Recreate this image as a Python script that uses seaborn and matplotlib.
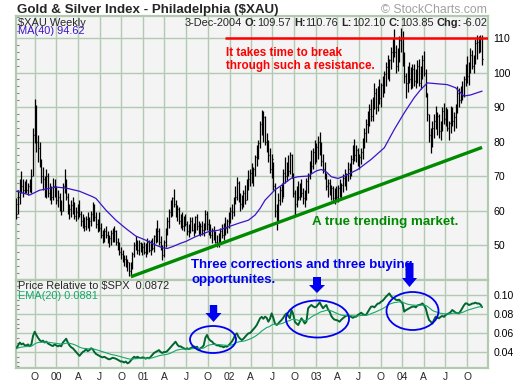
import matplotlib
matplotlib.use("Agg")
import matplotlib.pyplot as plt
from matplotlib.patches import Ellipse, Polygon
from matplotlib.ticker import MultipleLocator
import numpy as np
import pandas as pd
import seaborn as sns

# weekly bars of $XAU, first bar week ending 1999-07-16
first_week = "1999-07-16"

lows = [
    57.5, 59, 62, 65, 64, 65, 65, 64.5, 65.5, 65,
    70, 79.5, 77, 74, 72.5, 68, 66, 64, 63.5, 64,
    63, 62, 63, 64, 62, 61, 60, 58.7, 60, 65,
    63, 59, 57.5, 58, 59, 57.5, 57, 57.5, 58, 55.5,
    55, 54, 54.5, 55, 54, 55.5, 57, 57, 55, 53.7,
    54, 52, 50.6, 51, 52, 50.5, 49.5, 50, 51, 51,
    50, 48.5, 47, 46, 45, 44, 43.5, 42.5, 41, 41.3,
    43, 46.5, 48.5, 47.5, 47, 48, 47, 47.5, 46.5, 47.5,
    48, 47, 48.5, 48, 50.5, 51, 50, 48.5, 45.6, 46.5,
    49.5, 53, 55, 58, 58.5, 61, 58, 57, 56, 55,
    54.3, 54, 55.5, 53, 52.3, 53.5, 54, 52.5, 53.5, 54.5,
    53, 52.5, 53, 52.5, 54.5, 54.5, 53, 52, 50.5, 51.5,
    50.5, 49.4, 49.4, 50.5, 52, 51.5, 53, 53.5, 55, 56.5,
    57.5, 58.5, 62, 63, 62.5, 60, 60.5, 61, 62, 63,
    66, 67, 68, 67, 70, 73, 75, 78, 82, 80,
    79, 77, 74, 71, 69.5, 66, 58, 54.3, 57, 61.5,
    62.5, 64, 68, 68.5, 70, 70.5, 69.5, 64, 58.7, 61,
    63, 63, 64, 62, 61, 63, 65, 69, 71, 72,
    73.5, 74, 75, 76, 73, 71, 69, 66, 64, 64.5,
    63, 62.5, 62, 63, 62.5, 64, 63.5, 65.5, 67, 66,
    68.5, 69, 70, 73.5, 74.5, 74, 73, 72, 73.5, 75,
    78, 80, 82.5, 84.5, 86, 86, 89.4, 88, 89, 91,
    90, 93, 94, 96, 98, 97.5, 101, 103, 104.5, 100,
    100.5, 103, 106, 102, 97, 92.7, 94.5, 97, 95.2, 95.5,
    96, 95.5, 97, 96, 95.2, 98, 99, 93, 86, 80,
    76.7, 78.5, 81, 83.5, 82, 81, 80.5, 83, 85, 84.5,
    83, 80.4, 82.5, 84.5, 83, 84, 88.3, 90, 91.2, 92,
    93, 96, 97, 96.5, 100, 101, 100, 102.5, 104, 105.6, 106, 102.1,
]

highs = [
    63.5, 66, 69, 71.5, 69, 68.5, 69, 68, 69, 72,
    84, 92.3, 90.5, 82, 80, 75, 72.5, 70, 72, 71,
    68, 67, 69.5, 69, 67, 66, 65, 63, 68, 72,
    69, 65, 62, 63, 64, 62.5, 61, 62, 63, 60,
    59, 58, 58.5, 59.5, 58, 60, 62.5, 62, 59.5, 57.5,
    59.5, 56.5, 54.5, 55, 55.5, 54, 53, 54.5, 55, 55.5,
    54.5, 52, 51, 49.5, 48.5, 47, 47, 46, 45, 45,
    48, 51, 52.5, 51.5, 51.5, 51, 50.5, 51, 50.5, 52,
    51.5, 51.5, 52, 53, 55, 57.2, 55, 52.5, 50, 51.5,
    55, 58, 60.5, 63, 64, 66.2, 63, 61.5, 61, 59,
    59.5, 58.5, 59, 57, 56, 58, 58, 56.5, 58.5, 59,
    57, 56.5, 57, 56.5, 60.1, 60, 57.5, 56, 55, 55.5,
    54, 53, 53.5, 55, 56, 56.5, 58, 57.5, 59.5, 61,
    62, 64, 67, 69.7, 68.5, 65, 64.5, 66, 67.5, 69,
    71.7, 72, 73.8, 72.5, 76, 79, 80.5, 86, 89.1, 89,
    87.5, 82.5, 80.4, 78, 76.5, 74, 68, 62, 65, 67,
    68, 72, 75.5, 74, 76, 77, 76.5, 71, 66, 67,
    68.5, 68, 69, 66.5, 66, 69.5, 71, 74.5, 77.5, 78,
    80.4, 79.5, 81.5, 82.8, 80, 76.5, 74, 71, 69, 69,
    67.5, 67, 66.5, 67, 67.5, 69, 68, 70.5, 72, 71,
    74, 73.8, 76, 79, 80.7, 79, 78, 76.5, 78, 81,
    84, 86.5, 89, 91, 92.3, 93, 97, 95.5, 96, 98,
    97, 99, 100.5, 103, 105, 104, 107.5, 110, 112.5, 108,
    107, 110.5, 112.8, 112, 106, 100, 102, 103, 101.5, 102.5,
    102.5, 101, 103.5, 104, 102, 105, 106.2, 101, 94, 88,
    84, 86, 88, 90.3, 88.5, 88, 86, 90, 91.2, 90,
    89.5, 86, 90.3, 90, 88.5, 91, 96, 95.5, 96, 97.5,
    99, 102.5, 104.8, 103, 107, 106.5, 105, 109.7, 111, 110.5, 111, 110.76,
]

closes = [
    59, 64, 67, 67, 66, 67.5, 66, 67, 66.5, 70,
    82, 86, 80, 78, 74, 70, 69, 66, 70, 65,
    65, 64, 67, 65.5, 63, 64, 61, 60, 67, 68,
    64, 60, 60.5, 61.5, 62, 58.5, 59.5, 61, 59, 57,
    56, 55.5, 57.5, 56, 57, 59, 61, 58, 56, 55,
    55, 53, 52.5, 54, 53, 51.5, 52, 53.5, 52, 54,
    51, 49.5, 48, 47.5, 45.5, 46, 44, 45, 42.5, 44,
    47.5, 50, 50.5, 48.5, 50.5, 48.5, 49.5, 48, 49.5, 51,
    48.5, 50.5, 49, 52.5, 53, 54, 51, 49.5, 47, 51,
    54.5, 57, 59.5, 60, 63.5, 62, 59, 60.5, 57, 58,
    55.5, 57.5, 56, 54, 55.5, 57, 54.5, 55.5, 58, 55.5,
    54, 55.5, 54.5, 56, 59, 56, 54.5, 53, 54.5, 52.5,
    51, 50.5, 52.5, 54, 53, 56, 55, 57, 58.5, 60,
    59.5, 63.5, 64, 68, 63.5, 62, 63, 65, 63, 68.5,
    69, 71, 70, 72, 75.5, 76, 79.5, 85, 84, 87,
    80, 80, 76, 72, 75, 67, 60, 60, 63, 66,
    63.5, 71, 70, 73, 71.5, 76, 70.5, 65, 62, 66,
    64, 67, 65, 63.5, 65.5, 68.5, 70, 73.5, 73, 77,
    76, 78.5, 80, 78, 74.5, 72, 70, 67, 68, 65,
    66.5, 63.5, 65.5, 64, 66.5, 65, 67.5, 69.5, 68, 70.5,
    72, 70.5, 75, 78, 76, 77.5, 74, 75.5, 77, 80,
    82.5, 85, 87, 89.5, 87.5, 92, 94, 90, 95, 92.5,
    96.5, 97, 99.5, 101.5, 100, 103.5, 106, 109, 106, 102,
    105, 109.5, 110, 104, 99, 97, 100.5, 98, 96, 101,
    97.5, 99.5, 102, 97, 100.5, 103.5, 100, 94, 88, 82,
    80.5, 84, 86, 85, 87.5, 83, 85, 89, 86.5, 89.5,
    84, 85.5, 89, 86, 87, 90.5, 94, 92, 95, 93.5,
    98, 101, 99, 102.5, 105, 102, 104, 108.5, 109, 108, 109.87, 103.85,
]

# price relative to $SPX, same weeks
price_rel = [
    0.044, 0.047, 0.050, 0.048, 0.049, 0.047, 0.047, 0.048, 0.046, 0.048,
    0.057, 0.0614, 0.058, 0.055, 0.0526, 0.051, 0.052, 0.050, 0.051, 0.049,
    0.048, 0.047, 0.0463, 0.048, 0.047, 0.046, 0.047, 0.046, 0.050, 0.052,
    0.054, 0.050, 0.047, 0.045, 0.044, 0.042, 0.040, 0.038, 0.036, 0.038,
    0.040, 0.041, 0.043, 0.041, 0.042, 0.044, 0.043, 0.040, 0.038, 0.037,
    0.036, 0.035, 0.0344, 0.035, 0.034, 0.033, 0.0323, 0.033, 0.034, 0.0335,
    0.033, 0.032, 0.031, 0.030, 0.030, 0.029, 0.030, 0.0281, 0.029, 0.031,
    0.0333, 0.035, 0.034, 0.035, 0.034, 0.0335, 0.0344, 0.034, 0.033, 0.034,
    0.0333, 0.035, 0.037, 0.039, 0.040, 0.041, 0.042, 0.040, 0.039, 0.040,
    0.040, 0.041, 0.043, 0.045, 0.047, 0.049, 0.0509, 0.048, 0.046, 0.046,
    0.0449, 0.044, 0.043, 0.044, 0.043, 0.044, 0.045, 0.046, 0.045, 0.0456,
    0.042, 0.044, 0.045, 0.047, 0.055, 0.058, 0.054, 0.052, 0.051, 0.049,
    0.048, 0.047, 0.047, 0.046, 0.046, 0.045, 0.046, 0.0456, 0.047, 0.049,
    0.051, 0.054, 0.058, 0.0597, 0.056, 0.054, 0.0526, 0.054, 0.056, 0.058,
    0.0597, 0.060, 0.062, 0.064, 0.066, 0.0684, 0.072, 0.0755, 0.077, 0.075,
    0.0772, 0.076, 0.0719, 0.075, 0.0807, 0.076, 0.070, 0.0684, 0.070, 0.072,
    0.0737, 0.076, 0.079, 0.0807, 0.078, 0.0755, 0.0842, 0.080, 0.0719, 0.070,
    0.0684, 0.072, 0.0755, 0.073, 0.070, 0.072, 0.086, 0.088, 0.0895, 0.088,
    0.087, 0.0877, 0.090, 0.0923, 0.089, 0.086, 0.088, 0.0895, 0.085, 0.0825,
    0.078, 0.0755, 0.074, 0.0737, 0.073, 0.0719, 0.074, 0.0755, 0.077, 0.078,
    0.079, 0.078, 0.077, 0.076, 0.077, 0.0772, 0.079, 0.080, 0.0814, 0.080,
    0.079, 0.079, 0.082, 0.085, 0.0877, 0.088, 0.087, 0.089, 0.091, 0.0912,
    0.093, 0.094, 0.096, 0.0982, 0.100, 0.1017, 0.099, 0.097, 0.0965, 0.095,
    0.0947, 0.095, 0.093, 0.0912, 0.0825, 0.084, 0.085, 0.086, 0.087, 0.0877,
    0.088, 0.087, 0.089, 0.0895, 0.090, 0.0912, 0.089, 0.086, 0.079, 0.0737,
    0.072, 0.070, 0.074, 0.0772, 0.076, 0.0755, 0.077, 0.078, 0.077, 0.079,
    0.080, 0.0807, 0.082, 0.0842, 0.083, 0.0814, 0.081, 0.0807, 0.083, 0.086,
    0.089, 0.0912, 0.091, 0.0895, 0.090, 0.091, 0.0912, 0.092, 0.091, 0.0912, 0.090, 0.0872,
]

# MA(40) at these week numbers
ma_weeks = [0, 8, 14, 24, 30, 38, 46, 48, 54, 60, 66, 72, 78, 84, 88, 91, 94, 99,
            102, 108, 116, 122, 128, 134, 140, 144, 147, 150, 156, 162, 166, 170,
            176, 181, 184, 187, 190, 194, 198, 206, 214, 222, 228, 234, 240, 244,
            248, 260, 265, 270, 274, 281]
ma_values = [65.6, 64.5, 65.9, 66.8, 66.5, 65.6, 64, 63.5, 60.1, 57.2, 54.8, 52.6,
             51.4, 50, 49.2, 49, 49.5, 50.5, 51, 52.4, 53.9, 54.3, 55.3, 56.3, 57.2,
             58.7, 60.6, 63, 66, 68, 69.4, 69.8, 70, 71.5, 71.9, 71.2, 69.8, 69.3,
             70, 71.9, 74.8, 78.2, 83.5, 88.3, 92.7, 95.1, 97, 96.5, 95.6, 93.2,
             93.5, 94.62]

trend_weeks = [69, 281]
trend_values = [40.8, 78.3]
resistance_from = "2001-12-14"
resistance_level = 110

assert len(lows) == len(highs) == len(closes) == len(price_rel)

weeks = pd.date_range(first_week, periods=len(closes), freq="7D")
df = pd.DataFrame({"date": weeks, "low": lows, "high": highs,
                   "close": closes, "pr": price_rel})
df["ema"] = df["pr"].ewm(span=20, adjust=False).mean()
ma = pd.DataFrame({"date": weeks[ma_weeks], "ma": ma_values})

sns.set_theme(style="white")
plt.rcParams["font.family"] = ["Liberation Sans", "DejaVu Sans"]

W, H = 520, 384
fig = plt.figure(figsize=(W / 100, H / 100), dpi=100)
fig.patch.set_facecolor("white")


def fx(x):
    return x / W


def fy(y):
    return 1 - y / H


ax = fig.add_axes([fx(16), fy(280), fx(488) - fx(16), fy(16) - fy(280)])
ax2 = fig.add_axes([fx(16), fy(368), fx(488) - fx(16), fy(280) - fy(368)])

grid_c = "#b2c9b2"
bg_c = "#f4f4f4"
ma_c = "#3c14c8"
blue = "#0000f0"

# price bars
ax.vlines(df["date"], df["low"], df["high"], color="black", lw=0.9, zorder=3)
ax.hlines(df["close"], df["date"], df["date"] + pd.Timedelta(days=4),
          color="black", lw=0.9, zorder=3)
sns.lineplot(data=ma, x="date", y="ma", ax=ax, color=ma_c, lw=0.9, zorder=4)

xmin, xmax = pd.Timestamp("1999-07-14"), pd.Timestamp("2004-12-28")
ax.hlines(resistance_level, pd.Timestamp(resistance_from), xmax,
          color="#ff0000", lw=1.8, zorder=5)
ax.plot(weeks[trend_weeks], trend_values, color="#008a00", lw=2.4,
        solid_capstyle="butt", zorder=5)

# lower panel
sns.lineplot(data=df, x="date", y="pr", ax=ax2, color="#00662e", lw=1.4, zorder=3)
sns.lineplot(data=df, x="date", y="ema", ax=ax2, color="#16a86a", lw=0.8, zorder=4)

quarters = pd.date_range("1999-10-01", "2004-10-01", freq="QS")
qlabels = [f"{d.year % 100:02d}" if d.month == 1 else {4: "A", 7: "J", 10: "O"}[d.month]
           for d in quarters]

for a in (ax, ax2):
    a.set_facecolor(bg_c)
    a.set_xlim(xmin, xmax)
    a.set_xticks(quarters)
    a.grid(True, which="major", color=grid_c, lw=1.0)
    a.set_axisbelow(True)
    a.set_xlabel("")
    a.set_ylabel("")
    for s in a.spines.values():
        s.set_color(grid_c)
        s.set_linewidth(1.6)
    a.yaxis.tick_right()
    a.tick_params(axis="y", which="major", length=0, pad=4, labelsize=7.6,
                  labelright=True, labelleft=False, colors="black")
    a.tick_params(axis="y", which="minor", left=True, right=False,
                  direction="in", length=2.5, width=0.8, color="#888888")
    a.tick_params(axis="x", length=0)

ax.set_ylim(39.86, 116.4)
ax.set_yticks(range(50, 111, 10))
ax.yaxis.set_minor_locator(MultipleLocator(2))
ax.tick_params(axis="x", labelbottom=False)

ax2.set_ylim(0.0232, 0.1158)
ax2.set_yticks([0.04, 0.06, 0.08, 0.10])
ax2.set_yticklabels(["0.04", "0.06", "0.08", "0.10"])
ax2.yaxis.set_minor_locator(MultipleLocator(0.005))
ax2.set_xticklabels(qlabels)
ax2.tick_params(axis="x", labelsize=7.4, pad=3)

# header texts
fig.text(fx(17), fy(13.3), "Gold & Silver Index - Philadelphia ($XAU)",
         fontsize=9.6, fontweight="bold", va="baseline", parse_math=False)
fig.text(fx(487), fy(13), "\u00a9 StockCharts.com", fontsize=8.8, color="#a0a0a0",
         ha="right", va="baseline")
fig.text(fx(18.5), fy(25.5), "$XAU Weekly", fontsize=7.9, va="baseline",
         parse_math=False)
fig.text(fx(18.5), fy(34.5), "MA(40) 94.62", fontsize=7.9, color=ma_c, va="baseline")

pieces = [("3-Dec-2004", "normal", True), ("O:", "bold", False), ("109.57", "normal", True),
          ("H:", "bold", False), ("110.76", "normal", True), ("L:", "bold", False),
          ("102.10", "normal", True), ("C:", "bold", False), ("103.85", "normal", True),
          ("Chg:", "bold", False), ("-6.02", "normal", False)]
renderer = fig.canvas.get_renderer()
right = 487
for txt, wt, gap_after in reversed(pieces):
    if gap_after:
        right -= 3.2
    t = fig.text(fx(right), fy(25.5), txt, fontsize=7.9, fontweight=wt,
                 ha="right", va="baseline")
    right = t.get_window_extent(renderer).x0

fig.text(fx(18.5), fy(289), "Price Relative to $SPX  0.0872", fontsize=7.9,
         va="baseline", parse_math=False)
fig.text(fx(18.5), fy(299), "EMA(20) 0.0881", fontsize=7.9, color="#16a86a",
         va="baseline")

# annotations
fig.text(fx(226), fy(56), "It takes time to break", color="#ff0000", fontsize=8.4,
         fontweight="bold", va="baseline")
fig.text(fx(226), fy(69.5), "through such a resistance.", color="#ff0000", fontsize=8.4,
         fontweight="bold", va="baseline")
fig.text(fx(312), fy(225), "A true trending market.", color="#008a00", fontsize=9.6,
         fontweight="bold", va="baseline")
fig.text(fx(191), fy(268), "Three corrections and three buying", color=blue,
         fontsize=9.5, fontweight="bold", va="baseline")
fig.text(fx(191), fy(282.5), "opportunites.", color=blue, fontsize=9.5,
         fontweight="bold", va="baseline")

for cx, cy, w, h in [(213, 339.5, 46, 27), (317.5, 319, 63, 37), (412.5, 311, 52, 38)]:
    fig.add_artist(Ellipse((fx(cx), fy(cy)), w / W, h / H, transform=fig.transFigure,
                           fill=False, ec=blue, lw=1.3, zorder=6))

for cx, top, hs, tip, sw, hw in [(213.5, 305, 313, 322, 3.7, 8),
                                 (317, 277, 285, 293, 4, 8),
                                 (409.5, 263, 278, 287, 4, 7.5)]:
    pts = [(cx - sw, top), (cx + sw, top), (cx + sw, hs), (cx + hw, hs),
           (cx, tip), (cx - hw, hs), (cx - sw, hs)]
    fig.add_artist(Polygon([(fx(x), fy(y)) for x, y in pts], closed=True,
                           transform=fig.transFigure, color=blue, lw=0, zorder=6))

fig.savefig("out.png", dpi=100)
